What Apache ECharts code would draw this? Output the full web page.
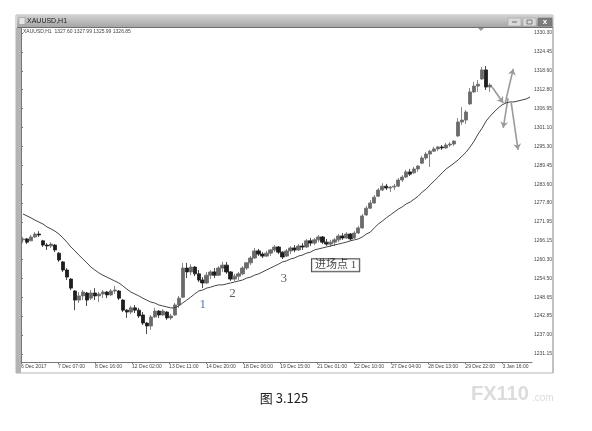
<!DOCTYPE html>
<html><head><meta charset="utf-8">
<script src="https://cdn.jsdelivr.net/npm/echarts@6/dist/echarts.min.js"></script>
<style>html,body{margin:0;padding:0;background:#fff}#c{width:592px;height:431px}</style>
</head><body><div id="c"></div>
<script>
// OHLC bars: [open, close, low, high]
const candles = [
[1266.4,1266.7,1265.4,1267.3],[1266.7,1265.7,1265.1,1267.0],[1266.1,1267.3,1266.1,1267.9],[1267.3,1268.2,1267.0,1268.8],
[1268.2,1267.9,1267.3,1269.1],[1266.1,1264.8,1264.2,1266.4],[1264.8,1264.5,1263.3,1265.4],[1264.5,1265.1,1263.9,1265.7],
[1264.8,1263.3,1262.6,1265.1],[1262.3,1260.2,1259.6,1262.6],[1259.6,1257.1,1256.5,1259.9],[1257.1,1254.9,1254.0,1257.7],
[1254.3,1251.5,1250.9,1254.6],[1250.6,1247.8,1244.7,1250.9],[1247.8,1249.1,1246.9,1250.3],[1249.1,1250.3,1247.8,1250.9],
[1250.0,1247.8,1246.0,1250.3],[1248.4,1250.0,1247.8,1250.9],[1250.0,1249.1,1247.8,1251.5],[1249.1,1249.7,1247.2,1250.3],
[1249.7,1250.3,1248.4,1250.9],[1250.3,1249.4,1248.4,1250.6],[1249.4,1250.6,1249.1,1251.2],[1250.6,1250.9,1249.7,1252.2],
[1250.6,1248.4,1247.8,1250.9],[1247.8,1244.7,1244.1,1248.1],[1244.7,1244.1,1242.3,1245.0],[1244.1,1245.4,1243.5,1246.0],
[1245.4,1244.7,1243.8,1246.3],[1244.7,1242.9,1242.3,1245.4],[1243.2,1240.7,1240.1,1244.1],[1240.7,1239.8,1237.3,1241.0],
[1239.8,1242.6,1238.6,1243.2],[1242.6,1244.4,1242.3,1245.4],[1244.4,1243.2,1242.3,1244.7],[1243.2,1244.4,1242.9,1245.0],
[1244.1,1242.3,1241.7,1244.4],[1242.3,1242.9,1241.7,1243.5],[1243.2,1246.3,1242.9,1246.9],[1246.3,1248.4,1245.4,1249.1],
[1248.7,1257.7,1248.4,1259.3],[1257.7,1256.5,1254.6,1259.3],[1256.5,1258.0,1255.5,1258.9],[1258.0,1255.9,1255.2,1258.3],
[1255.9,1254.0,1253.4,1257.1],[1254.0,1253.1,1251.5,1254.9],[1253.1,1255.5,1252.8,1256.5],[1255.5,1256.5,1254.3,1257.1],
[1256.5,1255.5,1254.6,1257.7],[1255.5,1257.7,1255.2,1258.3],[1257.7,1258.6,1256.5,1259.6],[1258.6,1256.5,1255.9,1259.6],
[1256.5,1254.3,1253.7,1256.8],[1254.3,1255.2,1253.7,1255.9],[1255.2,1255.9,1254.0,1256.5],[1255.9,1257.7,1255.5,1258.3],
[1257.7,1259.3,1257.1,1259.6],[1259.3,1260.8,1258.6,1261.4],[1260.8,1263.0,1260.5,1263.9],[1263.0,1262.0,1261.4,1263.6],
[1262.0,1261.4,1260.8,1262.6],[1261.4,1262.3,1261.1,1263.0],[1262.3,1263.3,1261.4,1263.6],[1263.3,1264.2,1262.6,1264.8],
[1264.2,1262.6,1262.0,1264.5],[1262.6,1261.1,1260.5,1262.9],[1261.4,1263.0,1261.1,1263.6],[1263.0,1263.9,1262.0,1264.5],
[1263.9,1263.3,1262.6,1264.8],[1263.3,1264.5,1263.0,1265.1],[1264.5,1264.2,1263.3,1265.4],[1264.2,1266.1,1263.9,1266.7],
[1266.1,1265.4,1264.5,1267.0],[1265.4,1266.4,1264.8,1267.0],[1266.4,1267.3,1265.7,1267.9],[1267.3,1265.7,1265.1,1267.6],
[1265.7,1265.1,1264.5,1266.7],[1265.1,1265.7,1264.2,1266.4],[1265.7,1266.4,1264.5,1267.0],[1266.4,1267.6,1265.7,1268.2],
[1267.6,1267.0,1266.4,1268.5],[1267.0,1268.2,1266.7,1268.8],[1268.2,1266.7,1266.1,1268.5],[1267.0,1268.5,1266.7,1269.1],
[1268.5,1270.1,1268.2,1270.7],[1270.1,1273.8,1269.8,1274.4],[1274.1,1276.2,1273.8,1276.9],[1276.2,1277.8,1275.9,1278.7],
[1277.8,1279.6,1277.5,1280.3],[1279.9,1281.8,1279.6,1282.4],[1281.8,1283.0,1281.5,1283.9],[1283.0,1282.4,1281.8,1283.7],
[1282.4,1282.7,1281.2,1283.0],[1282.7,1283.0,1281.8,1283.7],[1283.0,1284.9,1282.7,1285.5],[1284.9,1285.8,1284.3,1286.4],
[1285.8,1287.4,1285.5,1288.0],[1287.4,1286.7,1286.1,1288.3],[1287.1,1288.3,1286.8,1288.9],[1288.3,1289.2,1287.4,1289.5],
[1290.1,1291.7,1289.8,1292.4],[1291.7,1292.9,1291.1,1293.5],[1292.9,1293.8,1288.9,1294.2],[1293.8,1294.5,1293.5,1295.1],
[1294.5,1295.1,1293.8,1295.4],[1295.1,1294.8,1294.2,1295.7],[1294.8,1295.7,1294.5,1296.3],[1295.7,1296.0,1295.1,1296.6],
[1296.0,1296.9,1295.4,1297.2],[1298.5,1302.8,1298.2,1304.0],[1302.8,1303.4,1301.9,1307.4],[1303.4,1305.9,1302.2,1306.5],
[1308.4,1312.1,1308.1,1313.3],[1312.1,1313.9,1311.8,1315.2],[1313.9,1314.5,1312.1,1315.8],[1316.1,1318.9,1315.8,1319.8],
[1318.9,1313.6,1312.7,1320.1],[1313.6,1314.2,1312.1,1314.8]
];
// moving average, one value per bar slot (continues into the shifted area)
const maValues = [
1274.4,1273.8,1273.2,1272.5,1271.9,1271.3,1270.4,1269.8,1269.1,1268.2,1267.0,1265.7,1264.2,1263.0,1261.7,1260.5,
1259.3,1258.0,1257.1,1256.2,1255.5,1254.9,1254.3,1253.7,1253.1,1252.2,1251.2,1250.3,1249.7,1249.1,1248.4,1247.8,
1247.2,1246.9,1246.3,1246.0,1245.7,1245.4,1245.4,1246.0,1246.9,1247.8,1248.7,1249.7,1250.6,1250.9,1251.5,1251.8,
1252.2,1252.5,1252.5,1252.8,1253.1,1253.4,1253.7,1254.0,1254.6,1254.9,1255.5,1255.9,1256.5,1257.1,1257.7,1258.3,
1258.9,1259.6,1259.9,1260.5,1260.8,1261.4,1261.7,1262.3,1262.6,1263.3,1263.6,1263.9,1264.2,1264.5,1264.8,1265.1,
1265.4,1265.7,1266.1,1266.4,1266.7,1267.3,1268.2,1268.8,1270.1,1271.3,1272.2,1273.2,1274.1,1275.0,1275.9,1276.6,
1277.5,1278.1,1279.0,1279.9,1281.2,1282.1,1283.4,1284.6,1285.8,1287.1,1288.3,1289.2,1290.1,1291.1,1292.3,1293.5,
1295.1,1296.9,1299.1,1300.9,1303.1,1304.6,1305.9,1307.1,1308.1,1308.7,1309.0,1309.0,1309.3,1309.6,1309.9,1310.5
];
const barSlots = maValues.map((_, i) => String(i));
const yTickValues = [1330.30,1324.45,1318.60,1312.80,1306.95,1301.10,1295.30,1289.45,1283.60,1277.80,1271.95,1266.15,1260.30,1254.50,1248.65,1242.85,1237.00,1231.15];
const xTickLabels = ['6 Dec 2017','7 Dec 07:00','8 Dec 16:00','12 Dec 02:00','13 Dec 11:00','14 Dec 20:00','18 Dec 06:00','19 Dec 15:00','21 Dec 01:00','22 Dec 10:00','27 Dec 04:00','28 Dec 13:00','29 Dec 22:00','3 Jan 16:00'];
// annotation arrows in (bar slot, price)
const arrows = [
  [[117.5,1313.6],[120.3,1308.7]],
  [[120.8,1308.7],[122.8,1319.2]],
  [[121.5,1310.2],[120.3,1301.0]],
  [[122.3,1308.7],[124.0,1294.2]]
];
const notes = [
  {text:'1', at:[45,1246.3], color:'#2d4f86', box:false},
  {text:'2', at:[52.5,1249.7], color:'#333', box:false},
  {text:'3', at:[65.3,1254.6], color:'#333', box:false},
  {text:'进场点 1', at:[78.3,1258.6], color:'#111', box:true}
];
const infoLine = 'XAUUSD,H1  1327.60 1327.99 1325.99 1326.85';

const chart = echarts.init(document.getElementById('c'), null, {renderer:'canvas'});
const small = {fontFamily:'Liberation Sans', fontSize:5, color:'#444'};
chart.setOption({
  animation:false,
  backgroundColor:'#fff',
  grid:{left:21, right:60, top:28, bottom:69, show:false},
  xAxis:[
    {type:'category', data:barSlots, boundaryGap:true, show:false},
    {type:'value', min:0, max:13.8, position:'bottom',
     axisLine:{show:true, lineStyle:{color:'#777', width:1}},
     axisTick:{show:true, length:2, lineStyle:{color:'#777'}, customValues:xTickLabels.map((_, k) => k)},
     axisLabel:{show:true, ...small, align:'left', margin:2, customValues:xTickLabels.map((_, k) => k),
       formatter:v => xTickLabels[Math.round(v)] || ''},
     splitLine:{show:false}},
    {type:'value', min:-0.5, max:127.5, show:false}
  ],
  yAxis:[{type:'value', position:'right', min:1228.68, max:1331.84, scale:true,
    axisLine:{show:true, lineStyle:{color:'#777', width:1}},
    axisTick:{show:true, length:2, lineStyle:{color:'#777'}, customValues:yTickValues},
    axisLabel:{show:true, ...small, margin:2, customValues:yTickValues, formatter:v => v.toFixed(2)},
    splitLine:{show:false}}],
  series:[
    {type:'candlestick', xAxisIndex:0, yAxisIndex:0, data:candles, barWidth:'95%',
     itemStyle:{color:'#6a6a6a', color0:'#1e1e1e', borderColor:'#6a6a6a', borderColor0:'#1e1e1e', borderWidth:0.8}},
    {type:'line', xAxisIndex:0, yAxisIndex:0, data:maValues, symbol:'none', smooth:false,
     lineStyle:{color:'#444', width:1}},
    {type:'lines', coordinateSystem:'cartesian2d', xAxisIndex:2, yAxisIndex:0,
     data:arrows.map(a => ({coords:a})), symbol:['none','arrow'], symbolSize:6,
     lineStyle:{color:'#9a9a9a', width:1.6, opacity:1}},
    {type:'scatter', xAxisIndex:2, yAxisIndex:0, symbolSize:0,
     data:notes.map(n => ({value:n.at, label:{show:true, position:'inside', formatter:n.text,
       color:n.color, fontFamily:"'Liberation Serif','Noto Sans CJK SC'", fontSize:n.box ? 11 : 13,
       backgroundColor:n.box ? '#fff' : 'transparent', borderColor:n.box ? '#222' : 'transparent',
       borderWidth:n.box ? 1 : 0, padding:n.box ? [1,3,0,3] : 0}}))}
  ],
  graphic:[
    {type:'rect', shape:{x:16,y:15,width:537,height:358}, style:{fill:'none', stroke:'#b5b5b5', lineWidth:1}, z:100},
    {type:'rect', shape:{x:17,y:15,width:536,height:12},
     style:{fill:new echarts.graphic.LinearGradient(0,0,0,1,[{offset:0,color:'#d2d2d2'},{offset:1,color:'#a6a6a6'}])}, z:100},
    {type:'line', shape:{x1:17,y1:27.5,x2:553,y2:27.5}, style:{stroke:'#6f6f6f', lineWidth:1}, z:101},
    {type:'rect', shape:{x:19,y:17.5,width:6,height:7}, style:{fill:'#e6e6e6', stroke:'#888', lineWidth:0.5}, z:101},
    {type:'text', x:27, y:21.5, style:{text:'XAUUSD,H1', fontFamily:'Liberation Sans', fontSize:7, fill:'#222', verticalAlign:'middle'}, z:101},
    {type:'rect', shape:{x:508,y:18,width:13,height:8}, style:{fill:'#d9d9d9', stroke:'#999', lineWidth:0.5}, z:101},
    {type:'rect', shape:{x:523,y:18,width:13,height:8}, style:{fill:'#d9d9d9', stroke:'#999', lineWidth:0.5}, z:101},
    {type:'rect', shape:{x:538,y:18,width:14,height:8}, style:{fill:'#7d7d7d', stroke:'#666', lineWidth:0.5}, z:101},
    {type:'line', shape:{x1:512,y1:22,x2:517,y2:22}, style:{stroke:'#666', lineWidth:1}, z:102},
    {type:'rect', shape:{x:527,y:20,width:5,height:4}, style:{fill:'none', stroke:'#666', lineWidth:0.8}, z:102},
    {type:'text', x:545, y:22, style:{text:'x', fontFamily:'Liberation Sans', fontSize:8, fontWeight:'bold', fill:'#fff', align:'center', verticalAlign:'middle'}, z:102},
    {type:'rect', shape:{x:16,y:28,width:5,height:345}, style:{fill:'#b4b4b4'}, z:100},
    {type:'line', shape:{x1:553,y1:28,x2:553,y2:373}, style:{stroke:'#aaa', lineWidth:1}, z:100},
    {type:'text', x:23, y:31.5, style:{text:infoLine, fontFamily:'Liberation Sans', fontSize:5, fill:'#444', verticalAlign:'middle'}, z:100},
    {type:'polygon', shape:{points:[[478,28],[484,28],[481,31]]}, style:{fill:'#999'}, z:100},
    {type:'text', x:284, y:398, style:{text:'图 3.125', fontFamily:"'Noto Sans CJK SC','Liberation Sans'", fontSize:13, fill:'#222', align:'center', verticalAlign:'middle'}, z:100},
    {type:'text', x:471, y:394, style:{text:'FX110', fontFamily:'Liberation Sans', fontSize:20, fontWeight:'bold', fill:'#dcdcdc', verticalAlign:'middle'}, z:100},
    {type:'text', x:532, y:398, style:{text:'.com', fontFamily:'Liberation Sans', fontSize:10, fill:'#dcdcdc', verticalAlign:'middle'}, z:100}
  ]
});
</script></body></html>
